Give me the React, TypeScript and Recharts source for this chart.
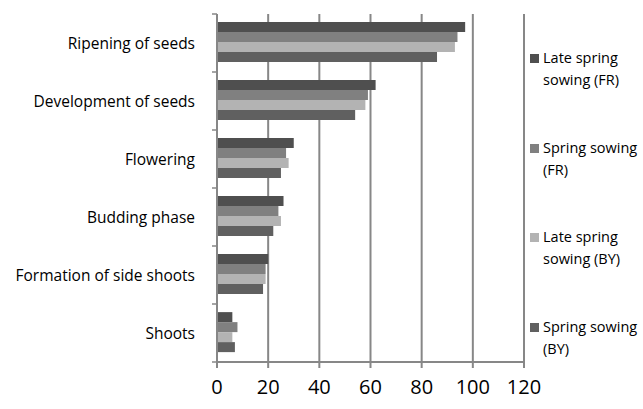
import React from "react";
import { BarChart, Bar, XAxis, YAxis, CartesianGrid } from "recharts";

const categories = [
  "Ripening of seeds",
  "Development of seeds",
  "Flowering",
  "Budding phase",
  "Formation of side shoots",
  "Shoots",
];
const lateSpringFR = [97, 62, 30, 26, 20, 6];
const springFR = [94, 59, 27, 24, 19, 8];
const lateSpringBY = [93, 58, 28, 25, 19, 6];
const springBY = [86, 54, 25, 22, 18, 7];
const xTicks = [0, 20, 40, 60, 80, 100, 120];

const seriesNames = [
  "Late spring sowing (FR)",
  "Spring sowing (FR)",
  "Late spring sowing (BY)",
  "Spring sowing (BY)",
];
const seriesKeys = ["lsFR", "sFR", "lsBY", "sBY"];
const seriesColors = ["#4f4f4f", "#808080", "#b3b3b3", "#606060"];

const data = categories.map((name, i) => ({
  name,
  lsFR: lateSpringFR[i],
  sFR: springFR[i],
  lsBY: lateSpringBY[i],
  sBY: springBY[i],
}));

const FONT = "'Open Sans', sans-serif";
const GRID = "#878787";

const YTick = (props: any) => {
  const { x, y, payload, index } = props;
  const off = payload.offset || 0;
  return (
    <g>
      <text
        x={x - 22}
        y={y}
        textAnchor="end"
        dominantBaseline="central"
        fontFamily={FONT}
        fontSize={15.5}
        fill="#000"
      >
        {payload.value}
      </text>
      <line x1={x - 5} x2={x} y1={y - off} y2={y - off} stroke={GRID} strokeWidth={1.5} />
      {index === categories.length - 1 ? (
        <line x1={x - 5} x2={x} y1={y + off} y2={y + off} stroke={GRID} strokeWidth={1.5} />
      ) : null}
    </g>
  );
};

export default function App() {
  return (
    <div style={{ position: "absolute", left: 0, top: 0, width: 643, height: 409, background: "#fff", overflow: "hidden" }}>
      <BarChart
        width={643}
        height={409}
        data={data}
        layout="vertical"
        margin={{ top: 14, right: 119, bottom: 7, left: 17 }}
        barCategoryGap="14%"
        barGap={0}
      >
        <CartesianGrid horizontal={false} stroke={GRID} strokeWidth={2} />
        <XAxis
          type="number"
          domain={[0, 120]}
          ticks={xTicks}
          interval={0}
          height={40}
          axisLine={{ stroke: GRID, strokeWidth: 2 }}
          tickLine={{ stroke: GRID, strokeWidth: 2 }}
          tickSize={6}
          tickMargin={12}
          tick={{ fontFamily: FONT, fontSize: 20, fill: "#000" }}
        />
        <YAxis
          type="category"
          dataKey="name"
          width={200}
          axisLine={{ stroke: GRID, strokeWidth: 2 }}
          tickLine={false}
          tickSize={0}
          tickMargin={0}
          tick={<YTick />}
          interval={0}
        />
        {seriesKeys.map((k, i) => (
          <Bar key={k} dataKey={k} name={seriesNames[i]} fill={seriesColors[i]} isAnimationActive={false} />
        ))}
      </BarChart>
      <div
        style={{
          position: "absolute",
          left: 530,
          top: 47,
          width: 125,
          fontFamily: FONT,
          fontSize: 14.5,
          color: "#000",
        }}
      >
        {seriesNames.map((n, i) => (
          <div
            key={n}
            style={{ display: "flex", alignItems: "flex-start", height: 89.5, lineHeight: "22px" }}
          >
            <span
              style={{
                display: "inline-block",
                width: 9,
                height: 9,
                background: seriesColors[i],
                marginTop: 7,
                marginRight: 4,
                flexShrink: 0,
              }}
            />
            <span style={{ width: 108 }}>{n}</span>
          </div>
        ))}
      </div>
    </div>
  );
}
